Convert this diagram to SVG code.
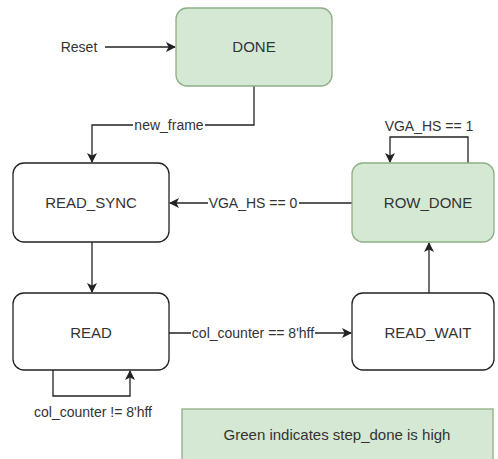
<svg xmlns="http://www.w3.org/2000/svg" width="498" height="459" viewBox="0 0 498 459">
<style>
.node rect{fill:#ffffff;stroke:#222;stroke-width:1.3}
.green rect{fill:#d5e8d4;stroke:#8fae86;stroke-width:1.3}
text{font-family:"Liberation Sans",Arial,sans-serif;fill:#333;text-anchor:middle}
.nl{font-size:15px}
.el{font-size:14px}
.edge{fill:none;stroke:#222;stroke-width:1.3}
.bg{fill:#ffffff}
</style>
<defs>
<marker id="arr" viewBox="0 0 10 10" refX="9" refY="5" markerWidth="10" markerHeight="10" markerUnits="userSpaceOnUse" orient="auto">
<path d="M0,0 L10,5 L0,10 L2.5,5 Z" fill="#222"/>
</marker>
</defs>
<rect width="498" height="459" fill="#ffffff"/>
<g id="connectors">
<path class="edge" d="M105,47 L175,47" marker-end="url(#arr)"/>
<path class="edge" d="M254,86 L254,125 L92,125 L92,162" marker-end="url(#arr)"/>
<path class="edge" d="M352,203 L170,203" marker-end="url(#arr)"/>
<path class="edge" d="M468,163 L468,137 L390,137 L390,162" marker-end="url(#arr)"/>
<path class="edge" d="M92,242 L92,292" marker-end="url(#arr)"/>
<path class="edge" d="M169,333 L351,333" marker-end="url(#arr)"/>
<path class="edge" d="M429,293 L429,243" marker-end="url(#arr)"/>
<path class="edge" d="M53,370 L53,396 L130,396 L130,371" marker-end="url(#arr)"/>
<rect class="bg" x="133" y="118" width="72" height="14"/>
<text class="el" x="169" y="130">new_frame</text>
<rect class="bg" x="208" y="196" width="91" height="14"/>
<text class="el" x="253" y="208">VGA_HS == 0</text>
<text class="el" x="429" y="131">VGA_HS == 1</text>
<rect class="bg" x="191" y="326" width="124" height="14"/>
<text class="el" x="253" y="338">col_counter == 8'hff</text>
<text class="el" x="93" y="417">col_counter != 8'hff</text>
<text class="el" x="79" y="52">Reset</text>
</g>
<g id="DONE" class="green"><rect x="176" y="8" width="156" height="78" rx="11"/><text class="nl" x="254" y="52">DONE</text></g>
<g id="READ_SYNC" class="node"><rect x="13" y="163" width="156" height="79" rx="11"/><text class="nl" x="91" y="208">READ_SYNC</text></g>
<g id="ROW_DONE" class="green"><rect x="352" y="163" width="142" height="79" rx="11"/><text class="nl" x="428" y="208">ROW_DONE</text></g>
<g id="READ" class="node"><rect x="13" y="293" width="156" height="77" rx="11"/><text class="nl" x="91" y="338">READ</text></g>
<g id="READ_WAIT" class="node"><rect x="352" y="293" width="142" height="77" rx="11"/><text class="nl" x="428" y="338">READ_WAIT</text></g>
<g id="legend" class="green"><rect x="182" y="409" width="311" height="60" rx="0"/><text class="nl" x="337" y="440">Green indicates step_done is high</text></g>
</svg>
